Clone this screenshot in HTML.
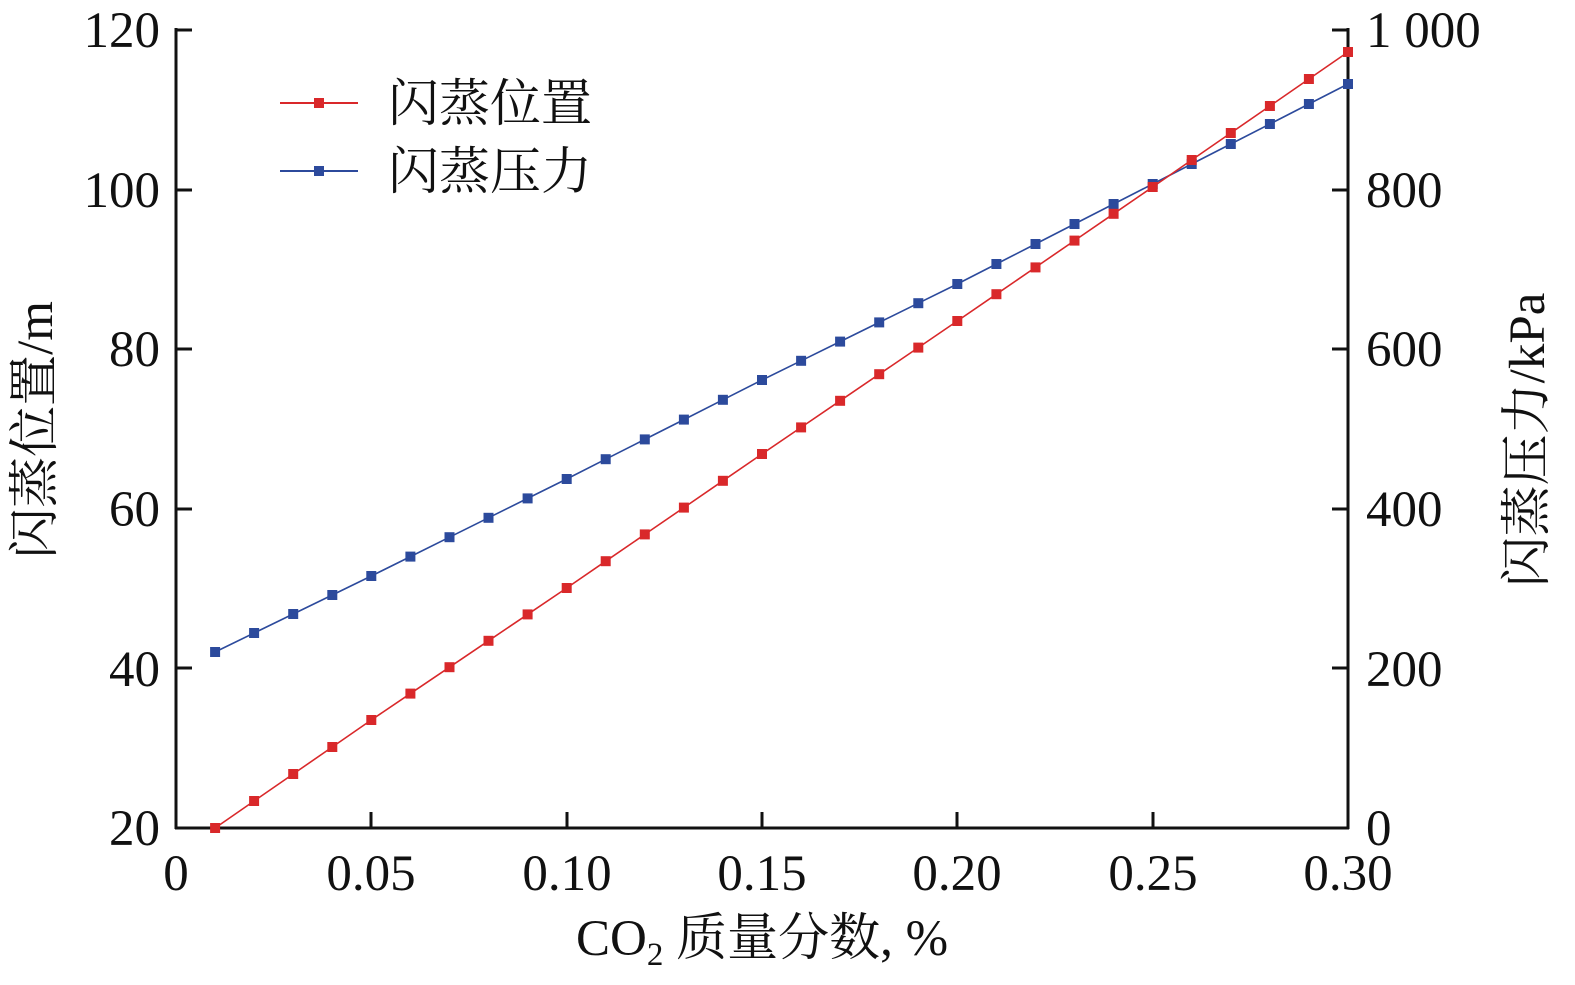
<!DOCTYPE html>
<html><head><meta charset="utf-8"><style>
html,body{margin:0;padding:0;background:#fff;width:1575px;height:985px;overflow:hidden}
text{font-family:"Liberation Serif","Noto Serif CJK SC","Noto Sans CJK SC",serif;fill:#111}
</style></head><body>
<svg id="s" width="1575" height="985" xmlns="http://www.w3.org/2000/svg">
<g stroke="#111" stroke-width="3" fill="none">
<line x1="176" y1="28" x2="176" y2="829"/>
<line x1="1348" y1="28" x2="1348" y2="829"/>
<line x1="175" y1="828" x2="1349" y2="828"/>
<line x1="176" y1="30" x2="192" y2="30"/><line x1="176" y1="190" x2="192" y2="190"/><line x1="176" y1="349" x2="192" y2="349"/><line x1="176" y1="509" x2="192" y2="509"/><line x1="176" y1="668" x2="192" y2="668"/>
<line x1="1332" y1="30" x2="1348" y2="30"/><line x1="1332" y1="190" x2="1348" y2="190"/><line x1="1332" y1="349" x2="1348" y2="349"/><line x1="1332" y1="509" x2="1348" y2="509"/><line x1="1332" y1="668" x2="1348" y2="668"/>
<line x1="371" y1="828" x2="371" y2="812"/><line x1="567" y1="828" x2="567" y2="812"/><line x1="762" y1="828" x2="762" y2="812"/><line x1="957" y1="828" x2="957" y2="812"/><line x1="1153" y1="828" x2="1153" y2="812"/>
</g>
<g font-size="51" text-anchor="end">
<text x="160" y="47">120</text><text x="160" y="207">100</text><text x="160" y="366">80</text><text x="160" y="526">60</text><text x="160" y="686">40</text><text x="160" y="845">20</text>
</g>
<g font-size="51" text-anchor="start">
<text x="1366" y="47">1 000</text><text x="1366" y="207">800</text><text x="1366" y="366">600</text><text x="1366" y="526">400</text><text x="1366" y="686">200</text><text x="1366" y="845">0</text>
</g>
<g font-size="51" text-anchor="middle">
<text x="176" y="890">0</text><text x="371" y="890">0.05</text><text x="567" y="890">0.10</text><text x="762" y="890">0.15</text><text x="957" y="890">0.20</text><text x="1153" y="890">0.25</text><text x="1348" y="890">0.30</text>
</g>
<text x="762" y="955" font-size="51" text-anchor="middle">CO<tspan font-size="33" dy="10">2</tspan><tspan dy="-10"> 质量分数, %</tspan></text>
<text transform="translate(52,430) rotate(-90)" font-size="51" text-anchor="middle">闪蒸位置/m</text>
<text transform="translate(1544,440) rotate(-90)" font-size="51" text-anchor="middle">闪蒸压力/kPa</text>
<line x1="280" y1="103" x2="358" y2="103" stroke="#d9282a" stroke-width="2"/>
<rect x="314" y="98" width="10" height="10" fill="#d9282a"/>
<line x1="280" y1="171" x2="358" y2="171" stroke="#2c4a9c" stroke-width="2"/>
<rect x="314" y="166" width="10" height="10" fill="#2c4a9c"/>
<text x="388" y="121" font-size="51">闪蒸位置</text>
<text x="388" y="189" font-size="51">闪蒸压力</text>
<g id="series"></g>
</svg>
<script>
function interp(pts,x){for(var i=0;i<pts.length-1;i++){if(x<=pts[i+1][0]+1e-9){var a=pts[i],b=pts[i+1];return a[1]+(b[1]-a[1])*(x-a[0])/(b[0]-a[0]);}}return pts[pts.length-1][1];}
var red=[[0.01,828],[0.05,720],[0.10,588],[0.15,454],[0.20,321],[0.25,187],[0.30,52]];
var blue=[[0.01,652],[0.05,576],[0.10,479],[0.15,380],[0.20,284],[0.25,184],[0.30,84]];
var g=document.getElementById('series'),h='';
[[blue,'#2c4a9c'],[red,'#d9282a']].forEach(function(s){var p=[];for(var k=1;k<=30;k++){var x=k/100;var px=176+x*3906.7;var py=interp(s[0],x);p.push([px,py]);}
h+='<polyline fill="none" stroke="'+s[1]+'" stroke-width="1.6" points="'+p.map(function(q){return q[0].toFixed(1)+','+q[1].toFixed(1)}).join(' ')+'"/>';
p.forEach(function(q){h+='<rect x="'+(q[0]-5).toFixed(1)+'" y="'+(q[1]-5).toFixed(1)+'" width="10" height="10" fill="'+s[1]+'"/>';});});
g.innerHTML=h;
</script>
</body></html>
